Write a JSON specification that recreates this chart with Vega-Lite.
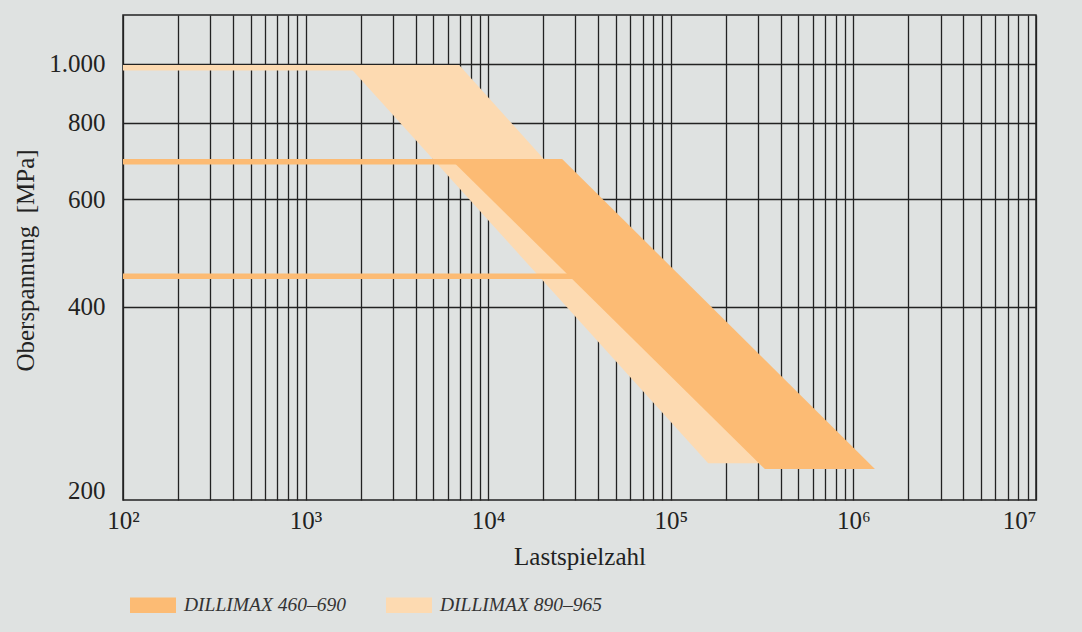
{
  "$schema": "https://vega.github.io/schema/vega-lite/v6.json",
  "width": 913,
  "height": 485,
  "autosize": {"type": "none"},
  "padding": {"left": 123, "top": 15, "right": 46, "bottom": 132},
  "background": "#dfe2e1",
  "config": {
    "view": {"stroke": "#222222", "strokeWidth": 1.5, "fill": "#dfe2e1"},
    "font": "Liberation Serif",
    "axis": {
      "labelFont": "Liberation Serif",
      "titleFont": "Liberation Serif",
      "labelColor": "#222222",
      "titleColor": "#222222",
      "titleFontWeight": "normal",
      "domain": false,
      "ticks": false,
      "gridOpacity": 1,
      "gridWidth": 1.3
    }
  },
  "datasets": {
    "bands": [
      {"series": "DILLIMAX 890–965", "S": 995.3, "N": 1702, "N2": 6929},
      {"series": "DILLIMAX 890–965", "S": 221.3, "N": 160240, "N2": 637700},
      {"series": "DILLIMAX 460–690", "S": 698.2, "N": 6209, "N2": 25410},
      {"series": "DILLIMAX 460–690", "S": 216.6, "N": 327600, "N2": 1312000}
    ],
    "strips": [
      {"series": "DILLIMAX 890–965", "S": 984.8, "N": 100, "N2": 1900},
      {"series": "DILLIMAX 460–690", "S": 691.1, "N": 100, "N2": 25000},
      {"series": "DILLIMAX 460–690", "S": 448.4, "N": 100, "N2": 30000}
    ]
  },
  "layer": [
    {
      "data": {"name": "bands"},
      "transform": [{"filter": "datum.series == 'DILLIMAX 890–965'"}],
      "mark": {"type": "area", "orient": "horizontal", "opacity": 1},
      "encoding": {
        "y": {
          "field": "S", "type": "quantitative",
          "scale": {"type": "log", "domain": [192.7, 1202], "nice": false},
          "axis": {
            "values": [200, 400, 600, 800, 1000],
            "labelExpr": "datum.value == 1000 ? '1.000' : datum.label",
            "labelFontSize": 25,
            "labelPadding": 18,
            "gridColor": {"condition": {"test": "datum.value == 200", "value": "transparent"}, "value": "#222222"},
            "title": "Oberspannung\u00a0 [MPa]",
            "titleFontSize": 25,
            "titleAngle": -90,
            "titleX": -90,
            "titleY": 245,
            "titleAlign": "center",
            "titleBaseline": "alphabetic"
          }
        },
        "x": {
          "field": "N", "type": "quantitative",
          "scale": {"type": "log", "domain": [100, 10000000], "nice": false},
          "axis": {
            "values": [100,200,300,400,500,600,700,800,900,1000,2000,3000,4000,5000,6000,7000,8000,9000,10000,20000,30000,40000,50000,60000,70000,80000,90000,100000,200000,300000,400000,500000,600000,700000,800000,900000,1000000,2000000,3000000,4000000,5000000,6000000,7000000,8000000,9000000,10000000],
            "labelExpr": "datum.value == 100 ? '10²' : datum.value == 1000 ? '10³' : datum.value == 10000 ? '10⁴' : datum.value == 100000 ? '10⁵' : datum.value == 1000000 ? '10⁶' : datum.value == 10000000 ? '10⁷' : ''",
            "labelOverlap": false,
            "labelBound": false,
            "labelFontSize": 25,
            "labelPadding": 8,
            "labelAlign": {"condition": {"test": "datum.value == 10000000", "value": "right"}, "value": "center"},
            "gridColor": "#222222",
            "title": "Lastspielzahl",
            "titleFontSize": 25,
            "titleY": 64,
            "titleBaseline": "alphabetic"
          }
        },
        "x2": {"field": "N2"},
        "fill": {
          "field": "series", "type": "nominal",
          "scale": {"domain": ["DILLIMAX 460–690", "DILLIMAX 890–965"], "range": ["#fcbb74", "#fddab1"]},
          "legend": {
            "orient": "none",
            "legendX": 7,
            "legendY": 567,
            "direction": "horizontal",
            "title": null,
            "padding": 0,
            "symbolType": "M-1,-0.333L1,-0.333L1,0.333L-1,0.333Z",
            "symbolSize": 2116,
            "symbolStrokeWidth": 0,
            "symbolOpacity": 1,
            "labelFont": "Liberation Serif",
            "labelFontStyle": "italic",
            "labelFontSize": 19.5,
            "labelLimit": 0,
            "labelColor": "#333333",
            "labelOffset": 8,
            "columnPadding": 40
          }
        }
      }
    },
    {
      "data": {"name": "bands"},
      "transform": [{"filter": "datum.series == 'DILLIMAX 460–690'"}],
      "mark": {"type": "area", "orient": "horizontal", "opacity": 1},
      "encoding": {
        "y": {"field": "S", "type": "quantitative"},
        "x": {"field": "N", "type": "quantitative"},
        "x2": {"field": "N2"},
        "fill": {"field": "series", "type": "nominal"}
      }
    },
    {
      "data": {"name": "strips"},
      "mark": {"type": "rule", "strokeWidth": 5.5},
      "encoding": {
        "y": {"field": "S", "type": "quantitative"},
        "x": {"field": "N", "type": "quantitative"},
        "x2": {"field": "N2"},
        "stroke": {
          "field": "series", "type": "nominal",
          "scale": {"domain": ["DILLIMAX 460–690", "DILLIMAX 890–965"], "range": ["#fcbb74", "#fddab1"]},
          "legend": null
        }
      }
    }
  ]
}
